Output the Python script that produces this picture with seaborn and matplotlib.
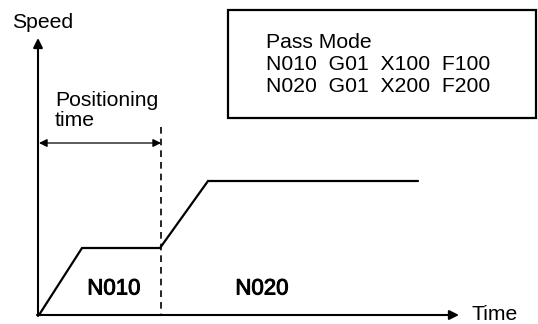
import matplotlib
matplotlib.use("Agg")
import matplotlib.pyplot as plt
import matplotlib.patheffects as pe
import seaborn as sns
import pandas as pd
from matplotlib.patches import Rectangle

sns.set_theme(style="white")
plt.rcParams['font.family'] = ['Liberation Sans', 'DejaVu Sans']

# Speed profile (pixel-like coordinates of the schematic)
time_pts = [39, 82, 160, 208, 418]
speed_pts = [315, 248, 248, 181, 181]
block_labels = ["N010", "N020"]
block_label_x = [114, 262]
program_lines = ["Pass Mode", "N010  G01  X100  F100", "N020  G01  X200  F200"]

W, H = 538, 324
FS = 15.2
fig = plt.figure(figsize=(W / 100, H / 100), dpi=100)
ax = fig.add_axes([0, 0, 1, 1])
ax.set_xlim(0, W)
ax.set_ylim(H, 0)
ax.axis("off")

df = pd.DataFrame({"time": time_pts, "speed": speed_pts})
sns.lineplot(data=df, x="time", y="speed", sort=False, color="black", lw=1.6, ax=ax,
             solid_joinstyle="miter")

# Axes arrows
ax.annotate("", xy=(38, 38), xytext=(38, 316),
            arrowprops=dict(arrowstyle="-|>", color="black", lw=1.5,
                            mutation_scale=14, shrinkA=0, shrinkB=0))
ax.annotate("", xy=(459, 315), xytext=(37, 315),
            arrowprops=dict(arrowstyle="-|>", color="black", lw=1.5,
                            mutation_scale=14, shrinkA=0, shrinkB=0))
ax.text(12, 22, "Speed", fontsize=FS, va="center", ha="left", color="black")
ax.text(471, 315, "Time", fontsize=FS, va="center", ha="left", color="black")

# Dashed divider
ax.plot([161, 161], [127, 315], color="black", lw=1.2, ls=(0, (4, 3)))

# Positioning time arrow
ax.annotate("", xy=(39, 143), xytext=(161, 143),
            arrowprops=dict(arrowstyle="<|-|>", color="black", lw=0.9,
                            mutation_scale=12, shrinkA=0, shrinkB=0))
ax.text(55, 100, "Positioning", fontsize=FS, va="center", ha="left", color="black")
ax.text(55, 120, "time", fontsize=FS, va="center", ha="left", color="black")

# Block labels
for lab, x in zip(block_labels, block_label_x):
    ax.text(x, 289, lab, fontsize=16, va="center", ha="center", color="black",
            path_effects=[pe.withStroke(linewidth=0.7, foreground="black")])

# Program box
ax.add_patch(Rectangle((228, 10), 308, 108, fill=False, edgecolor="black", lw=1.6))
for i, line in enumerate(program_lines):
    ax.text(266, 42 + i * 22.5, line, fontsize=FS, va="center", ha="left", color="black")

fig.savefig("out.png", dpi=100)
